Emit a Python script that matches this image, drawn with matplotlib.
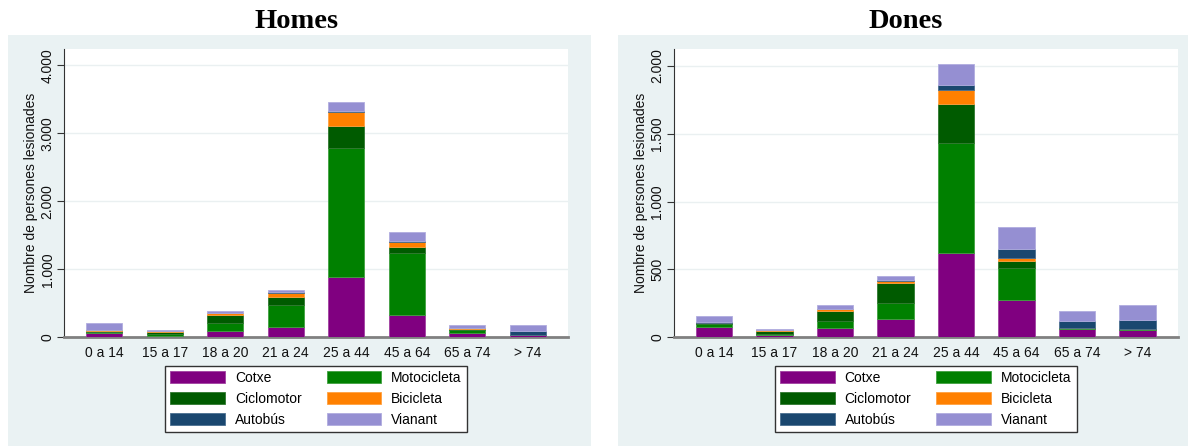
import matplotlib
matplotlib.use("Agg")
import matplotlib.pyplot as plt
from matplotlib.patches import Rectangle, Patch
from matplotlib.ticker import FuncFormatter
import numpy as np

plt.rcParams['font.family'] = ['Liberation Sans', 'DejaVu Sans']

categories = ["0 a 14", "15 a 17", "18 a 20", "21 a 24", "25 a 44", "45 a 64", "65 a 74", "> 74"]
series_names = ["Cotxe", "Motocicleta", "Ciclomotor", "Bicicleta", "Autobús", "Vianant"]

# Homes
homes_cotxe = [70, 20, 88, 152, 882, 333, 69, 34]
homes_moto = [15, 25, 127, 323, 1907, 912, 44, 3]
homes_ciclo = [10, 35, 118, 123, 324, 83, 10, 2]
homes_bici = [15, 15, 25, 59, 196, 79, 8, 2]
homes_autobus = [3, 2, 3, 5, 19, 10, 10, 50]
homes_vianant = [95, 15, 25, 29, 138, 127, 44, 83]

# Dones
dones_cotxe = [76, 18, 71, 133, 618, 275, 64, 56]
dones_moto = [22, 8, 52, 120, 813, 235, 5, 2]
dones_ciclo = [5, 20, 71, 147, 289, 52, 2, 1]
dones_bici = [5, 5, 12, 15, 98, 20, 1, 1]
dones_autobus = [2, 2, 5, 10, 37, 71, 49, 67]
dones_vianant = [50, 10, 27, 24, 155, 159, 69, 113]

colors = ["#800080", "#008000", "#005b00", "#ff8000", "#1a476f", "#958fd2"]
edge_colors = ["#a040a0", "#40a040", "#307830", "#ffa040", "#4a6f90", "#b0acdf"]

W, H = 1188, 448
fig = plt.figure(figsize=(W / 100, H / 100), dpi=100)
bg = "#eaf2f3"

# panel backgrounds
for x0, x1 in [(8, 591), (618, 1188)]:
    fig.patches.append(Rectangle((x0 / W, (H - 446) / H), (x1 - x0) / W, (446 - 35) / H,
                                 transform=fig.transFigure, facecolor=bg, edgecolor="none",
                                 zorder=-10))

def fmt(v, pos):
    return f"{int(round(v)):,}".replace(",", ".")

panels = [
    ("Homes", 64.3, 567.7, 4240, [0, 1000, 2000, 3000, 4000], 297,
     [homes_cotxe, homes_moto, homes_ciclo, homes_bici, homes_autobus, homes_vianant]),
    ("Dones", 674.2, 1177.5, 2123, [0, 500, 1000, 1500, 2000], 906,
     [dones_cotxe, dones_moto, dones_ciclo, dones_bici, dones_autobus, dones_vianant]),
]

y0px, y1px = 337.3, 49
for title, xl, xr, ytop, yticks, tcx, data in panels:
    ax = fig.add_axes([xl / W, (H - y0px) / H, (xr - xl) / W, (y0px - y1px) / H])
    ax.set_zorder(5)
    ax.set_facecolor("white")
    x = np.arange(len(categories))
    bottom = np.zeros(len(categories))
    handles = []
    for name, vals, c, ec in zip(series_names, data, colors, edge_colors):
        v = np.array(vals, dtype=float)
        ax.bar(x, v, bottom=bottom, width=0.6, color=c, edgecolor=ec, linewidth=0.6, zorder=3)
        bottom += v
        handles.append(Patch(facecolor=c, edgecolor=ec, linewidth=0.6, label=name))
    ax.set_xlim(-0.66, 7.66)
    ax.set_ylim(0, ytop)
    ax.set_yticks(yticks)
    ax.yaxis.set_major_formatter(FuncFormatter(fmt))
    ax.grid(axis="y", color="#eaf0f1", linewidth=1.0, zorder=0)
    ax.set_axisbelow(True)
    ax.set_xticks(x)
    ax.set_xticklabels(categories, fontsize=10, color="#111111")
    ax.tick_params(axis="x", length=0, pad=6)
    ax.tick_params(axis="y", length=5, width=0.8, color="#333333", labelsize=10,
                   labelcolor="#111111", pad=2)
    for lab in ax.get_yticklabels():
        lab.set_rotation(90)
        lab.set_va("center")
    ax.spines["top"].set_visible(False)
    ax.spines["right"].set_visible(False)
    ax.spines["left"].set_color("#333333")
    ax.spines["left"].set_linewidth(0.8)
    ax.spines["bottom"].set_color("#808080")
    ax.spines["bottom"].set_linewidth(2.0)
    ax.set_ylabel("Nombre de persones lesionades", fontsize=10, color="#111111", labelpad=2)
    # legend order: column-first fill
    order = [0, 2, 4, 1, 3, 5]
    leg = ax.legend([handles[i] for i in order], [series_names[i] for i in order],
                    ncol=2, loc="upper center", bbox_to_anchor=(0.5, -0.098),
                    fontsize=10, frameon=True, fancybox=False, framealpha=1.0,
                    handlelength=3.95, handleheight=1.0, columnspacing=1.8,
                    handletextpad=0.7, labelspacing=0.5, borderpad=0.38, borderaxespad=0.0)
    leg.get_frame().set_edgecolor("#333333")
    leg.get_frame().set_linewidth(1.0)
    fig.text(tcx / W, (H - 22) / H, title, ha="center", va="center", fontsize=20.5,
             fontweight="bold", family=["Liberation Serif", "DejaVu Serif"])

fig.savefig("out.png", dpi=100)
